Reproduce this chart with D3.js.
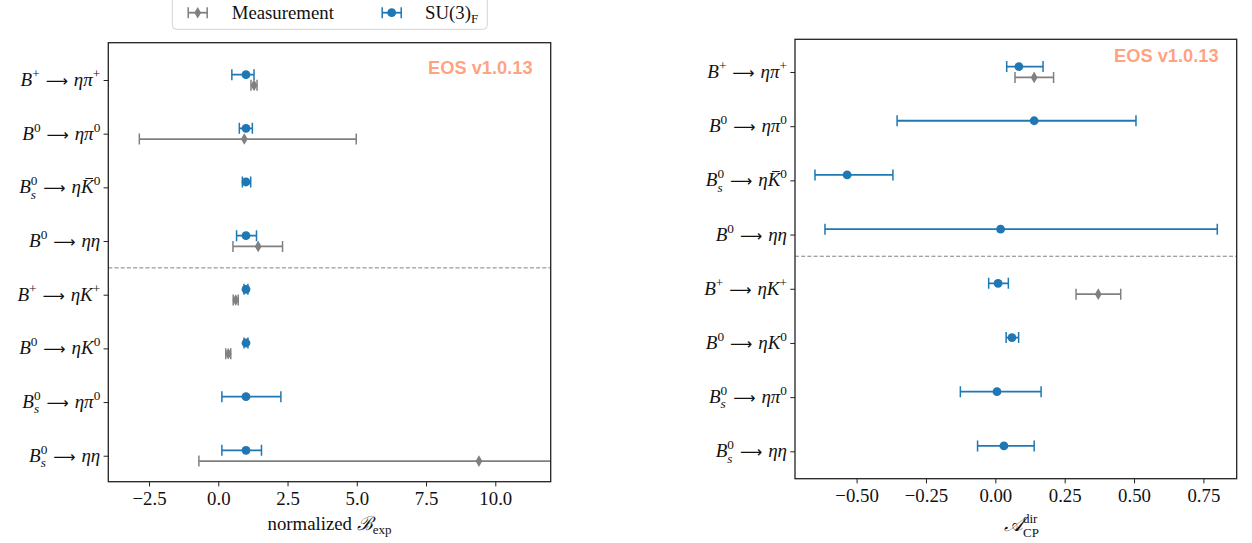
<!DOCTYPE html>
<html>
<head>
<meta charset="utf-8">
<script src="https://cdn.jsdelivr.net/npm/d3@7"></script>
<style>
  body { margin: 0; background: #fff; }
  text { white-space: pre; }
</style>
</head>
<body>
<svg id="chart" width="1252" height="543"></svg>
<script>
// decay channels, top to bottom (~ marks a bar over the next letter)
var decays = [
  "B^+ → ηπ^+",
  "B^0 → ηπ^0",
  "B_s^0 → η~K^0",
  "B^0 → ηη",
  "B^+ → ηK^+",
  "B^0 → ηK^0",
  "B_s^0 → ηπ^0",
  "B_s^0 → ηη"
];

// [central, low, high]
var brSU3 = [
  [1.00, 0.49, 1.29],
  [1.00, 0.76, 1.23],
  [1.00, 0.87, 1.17],
  [1.00, 0.66, 1.38],
  [1.00, 0.93, 1.07],
  [1.00, 0.93, 1.07],
  [1.00, 0.13, 2.26],
  [1.00, 0.13, 1.56]
];
var brMeas = [
  [1.29, 1.18, 1.40],
  [0.94, -2.85, 4.98],
  null,
  [1.44, 0.53, 2.32],
  [0.63, 0.54, 0.72],
  [0.36, 0.27, 0.45],
  null,
  [9.41, -0.70, 19.5]
];
var acpSU3 = [
  [0.085, 0.041, 0.172],
  [0.140, -0.354, 0.507],
  [-0.534, -0.650, -0.369],
  [0.019, -0.614, 0.800],
  [0.010, -0.024, 0.047],
  [0.060, 0.039, 0.084],
  [0.006, -0.126, 0.165],
  [0.031, -0.064, 0.140]
];
var acpMeas = [
  [0.140, 0.071, 0.210],
  null, null, null,
  [0.371, 0.291, 0.452],
  null, null, null
];

var brTicks = [-2.5, 0, 2.5, 5, 7.5, 10];
var acpTicks = [-0.5, -0.25, 0, 0.25, 0.5, 0.75];

var blue = "#1f77b4", grey = "#808080";
var serif = "'Liberation Serif', 'DejaVu Serif', serif";
var fs = 19;

var svg = d3.select("#chart");
var ctx = document.createElement("canvas").getContext("2d");

function measure(t, size, italic) {
  ctx.font = (italic ? "italic " : "") + size + "px " + serif;
  return ctx.measureText(t).width;
}

// tiny mathtext: ^x superscript, _x subscript, ~x barred letter, letters italic
function mathText(g, text, str, size) {
  var toks = [];
  var i = 0, bar = false;
  while (i < str.length) {
    var c = str[i];
    if (c === "~") { bar = true; i++; continue; }
    if (c === "^" || c === "_") {
      var prev = toks[toks.length - 1];
      toks.push({ t: str[i + 1], lvl: c === "^" ? 1 : -1,
        stack: c === "^" && prev && prev.lvl === -1 ? prev : null });
      i += 2;
    } else {
      toks.push({ t: c, lvl: 0, bar: bar });
      bar = false;
      i++;
    }
  }
  var cur = 0, barred = [];
  toks.forEach(function (k) {
    var target = k.lvl === 1 ? -0.42 * size : k.lvl === -1 ? 0.28 * size : 0;
    var s = k.lvl ? size * 0.7 : size;
    var ital = /[A-Za-zα-ω]/.test(k.t);
    var ts = text.append("tspan")
      .attr("font-size", s)
      .attr("font-style", ital ? "italic" : "normal")
      .attr("dy", target - cur)
      .text(k.t);
    if (k.t === "→") {
      ts.text("⟶").attr("font-family", "'DejaVu Sans', sans-serif").attr("font-size", 15.5);
    }
    if (k.t === " ") ts.attr("font-size", size * 1.25);
    if (k.stack) {
      ts.attr("dx", -measure(k.stack.t, s, /[A-Za-z]/.test(k.stack.t)));
    }
    if (k.bar) barred.push(ts.node());
    cur = target;
  });
  barred.forEach(function (n) {
    var a = n.getStartPositionOfChar(0), b = n.getEndPositionOfChar(0);
    var w = b.x - a.x;
    g.append("line")
      .attr("x1", a.x + w * 0.35).attr("x2", a.x + w * 0.95)
      .attr("y1", a.y - size * 0.78).attr("y2", a.y - size * 0.78)
      .attr("stroke", "#111").attr("stroke-width", 1);
  });
}

function drawPanel(p) {
  var x = d3.scaleLinear().domain(p.xDomain).range([p.left, p.right]);
  var y = d3.scaleLinear().domain(p.yDomain).range([p.top, p.bottom]);
  var g = svg.append("g");

  g.append("clipPath").attr("id", p.id)
    .append("rect")
    .attr("x", p.left).attr("y", p.top)
    .attr("width", p.right - p.left).attr("height", p.bottom - p.top);

  // divider between pi and K modes
  g.append("line")
    .attr("x1", p.left).attr("x2", p.right)
    .attr("y1", y(p.divider)).attr("y2", y(p.divider))
    .attr("stroke", "#808080").attr("stroke-width", 1)
    .attr("stroke-dasharray", "4,2.2");

  var plot = g.append("g").attr("clip-path", "url(#" + p.id + ")");

  function errorbars(data, dy, color, marker) {
    data.forEach(function (d, i) {
      if (!d) return;
      var yy = y(i + dy);
      var eb = plot.append("g").attr("stroke", color).attr("stroke-width", 1.8);
      eb.append("line").attr("x1", x(d[1])).attr("x2", x(d[2]))
        .attr("y1", yy).attr("y2", yy);
      [d[1], d[2]].forEach(function (v) {
        eb.append("line").attr("x1", x(v)).attr("x2", x(v))
          .attr("y1", yy - 5.5).attr("y2", yy + 5.5).attr("stroke-width", 1.5);
      });
      if (marker === "circle") {
        plot.append("circle").attr("cx", x(d[0])).attr("cy", yy)
          .attr("r", 4.4).attr("fill", color);
      } else {
        plot.append("path")
          .attr("d", "M0,-5.8L3.4,0L0,5.8L-3.4,0Z")
          .attr("transform", "translate(" + x(d[0]) + "," + yy + ")")
          .attr("fill", color);
      }
    });
  }
  errorbars(p.meas, 0.1, grey, "diamond");
  errorbars(p.su3, -0.1, blue, "circle");

  // frame
  g.append("rect")
    .attr("x", p.left).attr("y", p.top)
    .attr("width", p.right - p.left).attr("height", p.bottom - p.top)
    .attr("fill", "none").attr("stroke", "#222").attr("stroke-width", 1.3);

  // x axis
  var xa = g.append("g").attr("transform", "translate(0," + p.bottom + ")")
    .call(d3.axisBottom(x).tickValues(p.ticks).tickFormat(p.fmt)
      .tickSizeOuter(0).tickSize(4.7).tickPadding(5));
  xa.select(".domain").remove();
  xa.selectAll("line").attr("stroke", "#222");
  xa.selectAll("text").attr("font-family", serif).attr("font-size", 18.8)
    .attr("fill", "#111").attr("dy", "0.71em");

  // y axis with decay labels
  var ya = g.append("g").attr("transform", "translate(" + p.left + ",0)")
    .call(d3.axisLeft(y).tickValues(d3.range(decays.length)).tickFormat("")
      .tickSizeOuter(0).tickSize(4.7));
  ya.select(".domain").remove();
  ya.selectAll("line").attr("stroke", "#222");
  decays.forEach(function (d, i) {
    var t = g.append("text")
      .attr("x", p.left - 8).attr("y", y(i) + 6)
      .attr("text-anchor", "end")
      .attr("font-family", serif).attr("fill", "#111");
    mathText(g, t, d, fs);
  });

  // watermark
  g.append("text")
    .attr("x", p.right - 18).attr("y", p.markY)
    .attr("text-anchor", "end")
    .attr("font-family", "'Liberation Sans', sans-serif")
    .attr("font-weight", "bold").attr("font-size", 18.3)
    .attr("fill", "#FF4500").attr("fill-opacity", 0.5)
    .text("EOS v1.0.13");

  return g;
}

drawPanel({
  id: "clipL", left: 108.3, right: 550.7, top: 42.7, bottom: 481.7,
  xDomain: [-3.97, 12], yDomain: [-0.695, 7.484], divider: 3.5,
  ticks: brTicks, fmt: d3.format(".1f"), su3: brSU3, meas: brMeas, markY: 73.5
});
drawPanel({
  id: "clipR", left: 795, right: 1236.7, top: 39.3, bottom: 478.7,
  xDomain: [-0.722, 0.870], yDomain: [-0.603, 7.505], divider: 3.4,
  ticks: acpTicks, fmt: d3.format(".2f"), su3: acpSU3, meas: acpMeas, markY: 61.5
});

// x labels
var xl = svg.append("text").attr("x", 329.5).attr("y", 530)
  .attr("text-anchor", "middle").attr("font-family", serif)
  .attr("font-size", 18.8).attr("fill", "#111");
xl.append("tspan").text("normalized ");
xl.append("tspan").attr("font-family", "'DejaVu Serif', serif").attr("font-style", "italic").text("ℬ");
xl.append("tspan").attr("font-size", 13).attr("dy", 4).text("exp");

var xr = svg.append("text").attr("x", 1004).attr("y", 531)
  .attr("text-anchor", "start").attr("font-family", serif)
  .attr("font-size", 18.8).attr("fill", "#111");
xr.append("tspan").attr("font-style", "italic").attr("font-size", 20).text("𝒜");
xr.append("tspan").attr("font-size", 13).attr("dy", -8).text("dir");
xr.append("tspan").attr("font-size", 13).attr("dy", 14)
  .attr("dx", -measure("dir", 13, false)).text("CP");

// legend
var lg = svg.append("g");
lg.append("rect").attr("x", 172.3).attr("y", -8).attr("width", 315).attr("height", 37.3)
  .attr("rx", 4).attr("fill", "#fff").attr("fill-opacity", 0.8)
  .attr("stroke", "#d4d4d4").attr("stroke-width", 1);
var legendItems = [
  { label: "Measurement", color: grey, marker: "diamond", mx: 197.7, tx: 231.7 },
  { label: "SU(3)", sub: "F", color: blue, marker: "circle", mx: 391.7, tx: 425 }
];
legendItems.forEach(function (it) {
  var ly = 12.7;
  var e = lg.append("g").attr("stroke", it.color);
  e.append("line").attr("x1", it.mx - 9.5).attr("x2", it.mx + 9.5)
    .attr("y1", ly).attr("y2", ly).attr("stroke-width", 1.8);
  [it.mx - 9.5, it.mx + 9.5].forEach(function (v) {
    e.append("line").attr("x1", v).attr("x2", v)
      .attr("y1", ly - 5.5).attr("y2", ly + 5.5).attr("stroke-width", 1.5);
  });
  if (it.marker === "circle") {
    lg.append("circle").attr("cx", it.mx).attr("cy", ly).attr("r", 4.4).attr("fill", it.color);
  } else {
    lg.append("path").attr("d", "M0,-5.8L3.4,0L0,5.8L-3.4,0Z")
      .attr("transform", "translate(" + it.mx + "," + ly + ")").attr("fill", it.color);
  }
  var t = lg.append("text").attr("x", it.tx).attr("y", 19)
    .attr("font-family", serif).attr("font-size", 18.8).attr("fill", "#111")
    .text(it.label);
  if (it.sub) {
    t.append("tspan").attr("font-size", 13).attr("dy", 4).text(it.sub);
  }
});
</script>
</body>
</html>
